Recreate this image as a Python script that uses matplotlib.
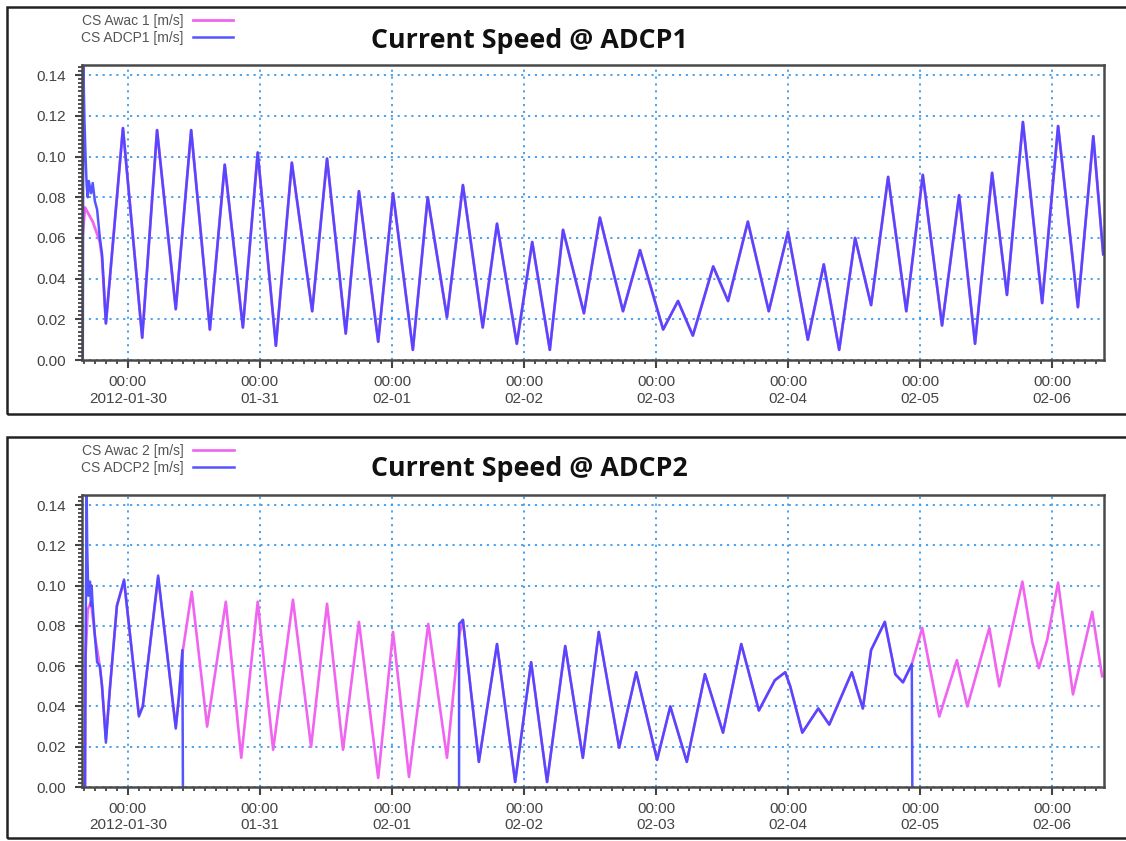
import numpy as np
import matplotlib
matplotlib.use("Agg")
import matplotlib.pyplot as plt
import matplotlib.dates as mdates
from matplotlib.ticker import MultipleLocator, FixedLocator, FormatStrFormatter
from matplotlib.patches import Rectangle

# temps en heures depuis 2012-01-29 00:00
BASE = np.datetime64("2012-01-29T00:00")

# ---- panneau du haut : ADCP1 / Awac 1 ----
# partie commune (les deux courbes se superposent)
top_t = [20.0, 23.1, 26.6, 29.3, 32.7, 35.5, 38.9, 41.6, 44.9, 47.6, 50.9, 53.8,
         57.5, 60.2, 63.6, 66.0, 69.5, 72.2, 75.8, 78.5, 82.0, 84.9, 88.5, 91.1,
         94.7, 97.5, 100.7, 103.1, 106.9, 109.8, 114.0, 117.1, 121.3, 124.0, 126.7,
         130.4, 133.1, 136.7, 140.5, 144.0, 147.6, 150.5, 153.3, 156.2, 159.1,
         162.2, 165.5, 168.5, 172.0, 175.1, 178.0, 181.1, 183.8, 186.7, 190.2,
         193.1, 196.7, 199.5, 201.3]
top_v = [0.018, 0.114, 0.011, 0.113, 0.025, 0.113, 0.015, 0.096, 0.016, 0.102, 0.007, 0.097,
         0.024, 0.099, 0.013, 0.083, 0.009, 0.082, 0.005, 0.080, 0.021, 0.086, 0.016, 0.067,
         0.008, 0.058, 0.005, 0.064, 0.023, 0.070, 0.024, 0.054, 0.015, 0.029, 0.012,
         0.046, 0.029, 0.068, 0.024, 0.063, 0.010, 0.047, 0.005, 0.060, 0.027,
         0.090, 0.024, 0.091, 0.017, 0.081, 0.008, 0.092, 0.032, 0.117, 0.028,
         0.115, 0.026, 0.110, 0.052]
adcp1_head_t = [15.8, 15.9, 16.1, 16.3, 16.5, 16.7, 16.9, 17.3, 17.6, 18.0, 18.4, 18.9, 19.3]
adcp1_head_v = [0.0, 0.145, 0.118, 0.100, 0.086, 0.080, 0.088, 0.082, 0.087, 0.078, 0.074, 0.060, 0.052]
awac1_head_t = [15.8, 16.2, 16.8, 17.6, 18.4, 18.9, 19.3]
awac1_head_v = [0.062, 0.075, 0.072, 0.068, 0.062, 0.058, 0.050]

# ---- panneau du bas : ADCP2 / Awac 2 ----
start2_t = [16.2, 16.3, 16.7, 17.3, 18.0, 18.9, 19.3, 20.0, 20.7, 22.0, 23.3, 26.0,
            26.7, 29.5, 32.7, 33.3, 34.0]
awac2_start_v = [0.0, 0.065, 0.088, 0.092, 0.075, 0.060, 0.050, 0.024, 0.048, 0.090, 0.102, 0.036,
                 0.040, 0.104, 0.030, 0.045, 0.068]
adcp2_start_t = [16.2, 16.3, 16.5, 16.6, 16.8, 17.1, 17.3, 17.4, 17.6, 18.0, 18.4, 18.9, 19.3,
                 20.0, 20.7, 22.0, 23.3, 26.0, 26.7, 29.5, 32.7, 33.3, 33.9, 34.0]
adcp2_start_v = [0.0, 0.068, 0.145, 0.119, 0.095, 0.102, 0.090, 0.100, 0.090, 0.075, 0.062, 0.060, 0.050,
                 0.022, 0.048, 0.090, 0.103, 0.035, 0.040, 0.105, 0.029, 0.045, 0.068, 0.0]
# Awac 2 seul (ADCP2 absent)
gap1_t = [35.6, 38.4, 41.8, 44.6, 47.6, 50.4, 54.0, 57.3, 60.2, 63.1, 66.0, 69.5,
          72.2, 75.1, 78.6, 82.0, 84.2]
gap1_v = [0.097, 0.030, 0.092, 0.0145, 0.092, 0.0185, 0.093, 0.020, 0.091, 0.0185, 0.082, 0.0045,
          0.077, 0.005, 0.081, 0.0145, 0.075]
# partie commune
mid2_t = [84.9, 87.8, 91.1, 94.4, 97.3, 100.2, 103.5, 106.7, 109.6, 113.3, 116.4, 120.2,
          122.6, 125.6, 128.9, 132.2, 135.5, 138.7, 141.6, 143.5, 144.4, 146.6, 149.5,
          151.5, 155.6, 157.6, 159.1, 161.6, 163.5, 164.9, 166.5]
mid2_v = [0.083, 0.0125, 0.071, 0.0025, 0.062, 0.0025, 0.070, 0.0145, 0.077, 0.0195, 0.057, 0.0135,
          0.040, 0.0125, 0.056, 0.027, 0.071, 0.038, 0.053, 0.057, 0.050, 0.027, 0.039,
          0.031, 0.057, 0.039, 0.068, 0.082, 0.056, 0.052, 0.061]
gap2_t = [168.4, 171.5, 174.7, 176.6, 180.6, 182.4, 186.6, 188.4, 189.6, 191.1, 193.1,
          195.8, 199.3, 201.1]
gap2_v = [0.079, 0.035, 0.063, 0.040, 0.079, 0.050, 0.102, 0.072, 0.059, 0.073, 0.1015,
          0.046, 0.087, 0.055]

tick_days = ["2012-01-30", "2012-01-31", "2012-02-01", "2012-02-02",
             "2012-02-03", "2012-02-04", "2012-02-05", "2012-02-06"]
tick_labels = ["00:00\n2012-01-30", "00:00\n01-31", "00:00\n02-01", "00:00\n02-02",
               "00:00\n02-03", "00:00\n02-04", "00:00\n02-05", "00:00\n02-06"]

MAGENTA = "#f064f0"
BLUE = "#4646ff"
GRID = "#3d9be9"


def to_time(hours):
    return BASE + (np.array(hours) * 60).astype("timedelta64[m]")


def habiller(ax):
    ax.set_xlim(to_time([15.65])[0], to_time([201.45])[0])
    ax.set_ylim(0, 0.145)
    ax.xaxis.set_major_locator(FixedLocator(mdates.date2num(np.array(tick_days, dtype="datetime64[m]"))))
    ax.set_xticklabels(tick_labels)
    ax.xaxis.set_minor_locator(mdates.HourLocator(byhour=range(0, 24, 2)))
    ax.yaxis.set_major_locator(MultipleLocator(0.02))
    ax.yaxis.set_minor_locator(MultipleLocator(0.002))
    ax.yaxis.set_major_formatter(FormatStrFormatter("%.2f"))
    ax.grid(True, which="major", color=GRID, linestyle=(0, (1.2, 2.6)), linewidth=1.3)
    ax.tick_params(which="major", length=5, width=1.5, color="#444", labelsize=11,
                   labelcolor="#444", direction="out")
    ax.tick_params(axis="x", which="major", length=6, pad=5)
    ax.tick_params(axis="y", which="major", pad=6.5)
    ax.tick_params(which="minor", length=3, width=1.3, color="#444", direction="out")
    for s in ax.spines.values():
        s.set_color("#4a4a4a")
        s.set_linewidth(1.8)
    for lab in ax.get_xticklabels() + ax.get_yticklabels():
        lab.set_family("Liberation Sans")


def legende(ax, lignes, noms, y_px):
    ax.legend(lignes, noms, loc="upper left", bbox_to_anchor=(74 / 1126, 1 - y_px / 841),
              bbox_transform=fig.transFigure, frameon=False, fontsize=10,
              markerfirst=False, handlelength=2.9, labelspacing=0.2,
              borderpad=0, handletextpad=0.7, labelcolor="#555")


plt.rcParams["font.family"] = ["Liberation Sans", "DejaVu Sans"]
fig = plt.figure(figsize=(11.26, 8.41), dpi=100)

# cadres autour des deux panneaux
fig.add_artist(Rectangle((0.0062, 0.5077), 1.1, 0.484, transform=fig.transFigure,
                         fill=False, lw=1.8, ec="#222"))
fig.add_artist(Rectangle((0.0062, 0.0036), 1.1, 0.4768, transform=fig.transFigure,
                         fill=False, lw=1.8, ec="#222"))

# haut
ax1 = fig.add_axes([0.0728, 0.5719, 0.9077, 0.3508])
l1, = ax1.plot(to_time(awac1_head_t + top_t), awac1_head_v + top_v, color=MAGENTA, lw=2.0,
               solid_joinstyle="round")
l2, = ax1.plot(to_time(adcp1_head_t + top_t), adcp1_head_v + top_v, color=BLUE, lw=1.8,
               alpha=0.92, solid_joinstyle="round")
habiller(ax1)
legende(ax1, [l1, l2], ["CS Awac 1 [m/s]", "CS ADCP1 [m/s]"], 7)
fig.text(0.4705, 1 - 48 / 841, "Current Speed @ ADCP1", ha="center", va="baseline",
         fontsize=19.3, fontweight="bold", family="Open Sans", color="#111")

# bas
ax2 = fig.add_axes([0.0728, 0.0642, 0.9077, 0.3472])
awac2_t = start2_t + gap1_t + mid2_t + gap2_t
awac2_v = awac2_start_v + gap1_v + mid2_v + gap2_v
adcp2_t = adcp2_start_t + [34.1, 84.2, 84.2] + mid2_t + [166.6]
adcp2_v = adcp2_start_v + [np.nan, 0.0, 0.081] + mid2_v + [0.0]
l3, = ax2.plot(to_time(awac2_t), awac2_v, color=MAGENTA, lw=1.9, solid_joinstyle="round")
l4, = ax2.plot(to_time(adcp2_t), adcp2_v, color=BLUE, lw=1.8, alpha=0.92,
               solid_joinstyle="round")
habiller(ax2)
legende(ax2, [l3, l4], ["CS Awac 2 [m/s]", "CS ADCP2 [m/s]"], 437)
fig.text(0.4705, 1 - 476 / 841, "Current Speed @ ADCP2", ha="center", va="baseline",
         fontsize=19.3, fontweight="bold", family="Open Sans", color="#111")

fig.savefig("out.png", dpi=100)
